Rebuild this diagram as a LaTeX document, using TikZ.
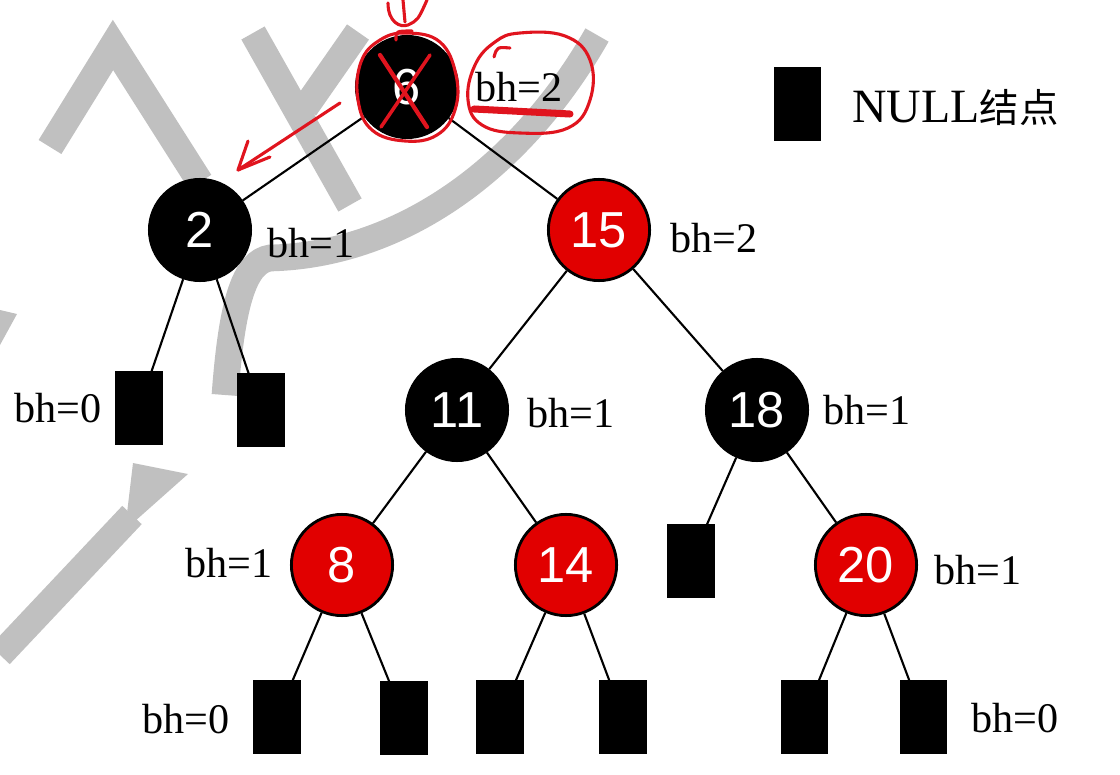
\documentclass[tikz,border=0pt]{standalone}
\usepackage{fontspec}
\setmainfont{Liberation Serif}
\setsansfont{Liberation Sans}
\newfontfamily\cjk{Noto Sans CJK SC}
\usetikzlibrary{arrows.meta}
\definecolor{rojo}{HTML}{E10000}
\definecolor{tinta}{HTML}{E0141E}
\definecolor{gris}{HTML}{C0C0C0}

\begin{document}
\begin{tikzpicture}[x=0.025cm,y=-0.025cm,
  nodon/.style={circle,fill=black,draw=black,line width=2pt,minimum size=2.53cm,
                inner sep=0pt,text=white,font=\sffamily\fontsize{36}{40}\selectfont},
  nodor/.style={nodon,fill=rojo},
  hoja/.style={rectangle,fill=black,minimum width=1.175cm,minimum height=1.825cm,inner sep=0pt},
  etiq/.style={font=\fontsize{30}{36}\selectfont,inner sep=0pt},
  rama/.style={line width=1.5pt},
  marca/.style={tinta,line width=2.2pt,line cap=round,line join=round},
  sello/.style={gris,line width=19pt}]
  \useasboundingbox (0,0) rectangle (1120,775);

  % marca de agua
  \draw[sello] (50,147) -- (113,45) -- (200,182);
  \draw[sello] (253,33) -- (350,205);
  \draw[sello] (358,32) -- (305,108);
  \draw[sello] (597,35) .. controls (520,170) and (400,255) .. (270,258)
                        .. controls (245,262) and (232,300) .. (225,395);
  \draw[sello] (0,655) -- (132,515);
  \fill[gris] (133,463) -- (188,474) -- (125,530) -- cycle;
  \fill[gris] (0,310) -- (17,314) -- (0,345) -- cycle;

  % nodos
  \node[nodon] (n6)  at (407,87)  {6};
  \node[nodon] (n2)  at (200,230) {2};
  \node[nodor] (n15) at (599,230) {15};
  \node[nodon] (n11) at (457,410) {11};
  \node[nodon] (n18) at (757,410) {18};
  \node[nodor] (n8)  at (342,565) {8};
  \node[nodor] (n14) at (566,565) {14};
  \node[nodor] (n20) at (866,565) {20};

  % hojas NULL
  \node[hoja] (h2a)  at (139,408) {};
  \node[hoja] (h2b)  at (261,410) {};
  \node[hoja] (h18a) at (691,561) {};
  \node[hoja] (h8a)  at (277,717) {};
  \node[hoja] (h8b)  at (404,718) {};
  \node[hoja] (h14a) at (500,717) {};
  \node[hoja] (h14b) at (623,717) {};
  \node[hoja] (h20a) at (804,717) {};
  \node[hoja] (h20b) at (923,717) {};

  \draw[rama] (n6) -- (n2);   \draw[rama] (n6) -- (n15);
  \draw[rama] (n2) -- (h2a);  \draw[rama] (n2) -- (h2b);
  \draw[rama] (n15) -- (n11); \draw[rama] (n15) -- (n18);
  \draw[rama] (n11) -- (n8);  \draw[rama] (n11) -- (n14);
  \draw[rama] (n18) -- (h18a); \draw[rama] (n18) -- (n20);
  \draw[rama] (n8) -- (h8a);  \draw[rama] (n8) -- (h8b);
  \draw[rama] (n14) -- (h14a); \draw[rama] (n14) -- (h14b);
  \draw[rama] (n20) -- (h20a); \draw[rama] (n20) -- (h20b);

  % alturas negras
  \node[etiq] (b6)   at (519,87)  {bh=2};
  \node[etiq] (b2)   at (311,243) {bh=1};
  \node[etiq] (b15)  at (714,238) {bh=2};
  \node[etiq] (b2a)  at (58,408)  {bh=0};
  \node[etiq] (b11)  at (571,413) {bh=1};
  \node[etiq] (b18)  at (867,410) {bh=1};
  \node[etiq] (b8)   at (229,563) {bh=1};
  \node[etiq] (b20)  at (978,570) {bh=1};
  \node[etiq] (b8a)  at (186,719) {bh=0};
  \node[etiq] (b20b) at (1015,718) {bh=0};

  % leyenda
  \node[hoja] (ley) at (797,104) {};
  \node[etiq,anchor=base west,font=\fontsize{34}{40}\selectfont] (leyt) at (852,123)
    {NULL{\cjk\fontsize{28}{34}\selectfont 结点}};

  % anotaciones a mano
  \draw[marca] plot[smooth cycle,tension=0.7] coordinates
    {(407,33) (440,42) (456,75) (455,110) (437,135) (405,141) (372,130) (358,100) (361,62) (380,40)};
  \draw[marca] (396,40) .. controls (396,31) .. (412,31);
  \draw[marca,line width=3pt] (380,55) -- (427,127);
  \draw[marca,line width=2.5pt] (430,55) -- (381,127);
  \draw[marca] (388,3) .. controls (388,22) and (400,28) .. (408,25) .. controls (418,20) .. (427,0);
  \draw[marca] (403,0) -- (405,22);
  \draw[marca] plot[smooth cycle,tension=0.7] coordinates
    {(520,33) (565,36) (590,60) (590,100) (568,128) (520,133) (482,125) (468,100) (475,65) (495,42)};
  \draw[marca] (494,57) .. controls (497,47) .. (510,48);
  \draw[marca,line width=5pt] (474,109) -- (570,114);
  \coordinate (fa) at (340,103);
  \coordinate (fb) at (238,170);
  \draw[marca] (fa) -- (fb) -- (248,141);
  \draw[marca] (fb) -- (270,157);
\end{tikzpicture}
\end{document}
